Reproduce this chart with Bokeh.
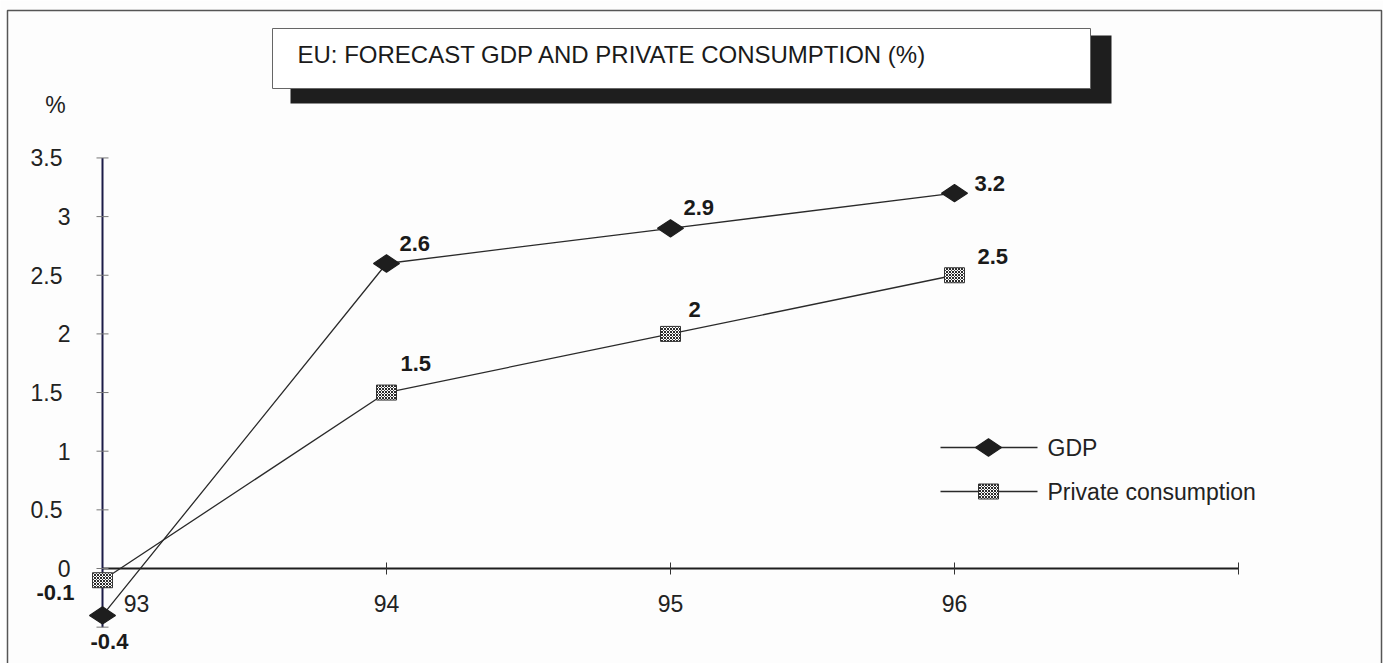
import math

from bokeh.plotting import figure
from bokeh.models import Range1d
from bokeh.core.properties import value
from bokeh.embed import file_html
from bokeh.resources import INLINE

# ---- data -------------------------------------------------------------
years = [93, 94, 95, 96]
year_labels = ["93", "94", "95", "96"]
gdp = [-0.4, 2.6, 2.9, 3.2]
consumption = [-0.1, 1.5, 2.0, 2.5]

y_tick_values = [-0.5, 0, 0.5, 1, 1.5, 2, 2.5, 3, 3.5]
y_label_values = [0, 0.5, 1, 1.5, 2, 2.5, 3, 3.5]
x_tick_values = [94, 95, 96, 97]

title = "EU: FORECAST GDP AND PRIVATE CONSUMPTION (%)"
series_names = ["GDP", "Private consumption"]

# ---- layout ------------------------------------------------------------
W, H = 1383, 663
ORIGIN_PX, ORIGIN_PY = 102, 568      # pixel position of (93, 0)
PX_PER_YEAR, PX_PER_UNIT = 284, 117.3

FONT = value("Liberation Sans")
INK = "#222222"
TICK_FONT_SIZE = "23px"

p = figure(
    width=W, height=H,
    x_range=Range1d(93 - ORIGIN_PX / PX_PER_YEAR, 93 + (W - ORIGIN_PX) / PX_PER_YEAR),
    y_range=Range1d(-(H - ORIGIN_PY) / PX_PER_UNIT, ORIGIN_PY / PX_PER_UNIT),
    x_axis_location=None, y_axis_location=None,
    output_backend="svg", toolbar_location=None,
    min_border=0, outline_line_color=None,
    background_fill_color="#fdfdfd", border_fill_color="#fdfdfd",
)
p.grid.visible = False
# pixel-space ranges for the frame, title box and legend
p.extra_x_ranges = {"px": Range1d(0, W)}
p.extra_y_ranges = {"py": Range1d(H, 0)}

# outer frame
p.line(x=[7, 7, 1381, 1381], y=[H, 10, 10, H], x_range_name="px", y_range_name="py",
       line_color="#555555", line_width=1.5)

# title box with drop shadow
p.quad(left=[290], right=[1111], top=[35], bottom=[103], x_range_name="px", y_range_name="py",
       fill_color="#1e1e1e", line_color=None)
p.quad(left=[272], right=[1090], top=[28], bottom=[88], x_range_name="px", y_range_name="py",
       fill_color="white", line_color="#666666", line_width=1)
p.text(x=[297], y=[54], text=[title], x_range_name="px", y_range_name="py",
       text_font=FONT, text_font_size="24px", text_color="#1a1a1a",
       text_align="left", text_baseline="middle")

# axes
p.segment(x0=[93], y0=[0], x1=[x_tick_values[-1]], y1=[0], line_color="#1e1e1e", line_width=2)
p.segment(x0=[93], y0=[y_tick_values[0]], x1=[93], y1=[y_tick_values[-1]],
          line_color="#1c1c48", line_width=2)

# x ticks (data x, pixel y) and y ticks (pixel x, data y)
p.segment(x0=x_tick_values, x1=x_tick_values, y0=[ORIGIN_PY - 6] * len(x_tick_values),
          y1=[ORIGIN_PY + 6] * len(x_tick_values), y_range_name="py",
          line_color="#333333", line_width=1)
p.segment(x0=[ORIGIN_PX - 6] * len(y_tick_values), x1=[ORIGIN_PX + 6] * len(y_tick_values),
          y0=y_tick_values, y1=y_tick_values, x_range_name="px",
          line_color="#777777", line_width=1)

# y tick labels
y_label_text = [f"{v:g}" for v in y_label_values]
y_label_dx = [0 if float(v).is_integer() else -8 for v in y_label_values]
p.text(x=[70] * len(y_label_values), y=y_label_values, text=y_label_text, x_range_name="px",
       x_offset=y_label_dx, text_font=FONT, text_font_size=TICK_FONT_SIZE, text_color=INK,
       text_align="right", text_baseline="middle")

# x tick labels ("93" sits to the right of the vertical axis)
x_label_dx = [34, 0, 0, 0]
p.text(x=years, y=[603] * len(years), text=year_labels, y_range_name="py",
       x_offset=x_label_dx, text_font=FONT, text_font_size=TICK_FONT_SIZE, text_color=INK,
       text_align="center", text_baseline="middle")

# unit label
p.text(x=[55], y=[104], text=["%"], x_range_name="px", y_range_name="py",
       text_font=FONT, text_font_size=TICK_FONT_SIZE, text_color=INK,
       text_align="center", text_baseline="middle")

# series lines
p.line(years, gdp, line_color="#2a2a2a", line_width=1.3)
p.line(years, consumption, line_color="#2a2a2a", line_width=1.3)

# markers
DIAMOND = dict(marker="diamond", size=26, angle=math.pi / 2,
               fill_color="#1e1e1e", line_color="#1e1e1e", line_width=1.2)
SQUARE = dict(width=20, height=15, width_units="screen", height_units="screen",
              fill_color="white", line_color="#333333", line_width=1,
              hatch_pattern="diagonal_cross", hatch_color="#2a2a2a",
              hatch_scale=3, hatch_weight=1)
p.scatter(years, gdp, **DIAMOND)
p.rect(years, consumption, **SQUARE)

# value labels
LABEL = dict(text_font=FONT, text_font_size="22px", text_font_style="bold",
             text_color="#1a1a1a", text_align="left", text_baseline="middle")
p.text(x=years, y=gdp, text=[f"{v:g}" for v in gdp],
       x_offset=[-12, 13, 13, 20], y_offset=[26, -20, -21, -10], **LABEL)
p.text(x=years, y=consumption, text=[f"{v:g}" for v in consumption],
       x_offset=[-66, 14, 18, 23], y_offset=[12, -29, -24, -19], **LABEL)

# legend
legend_y = [447, 491]
p.segment(x0=[940, 940], x1=[1037, 1037], y0=legend_y, y1=legend_y,
          x_range_name="px", y_range_name="py", line_color="#2a2a2a", line_width=1.3)
p.scatter([988], [legend_y[0]], x_range_name="px", y_range_name="py", **DIAMOND)
p.rect([988], [legend_y[1]], x_range_name="px", y_range_name="py", **SQUARE)
p.text(x=[1047, 1047], y=legend_y, text=series_names, x_range_name="px", y_range_name="py",
       text_font=FONT, text_font_size=TICK_FONT_SIZE, text_color=INK,
       text_align="left", text_baseline="middle")

open("out.html", "w").write(file_html(p, INLINE))
